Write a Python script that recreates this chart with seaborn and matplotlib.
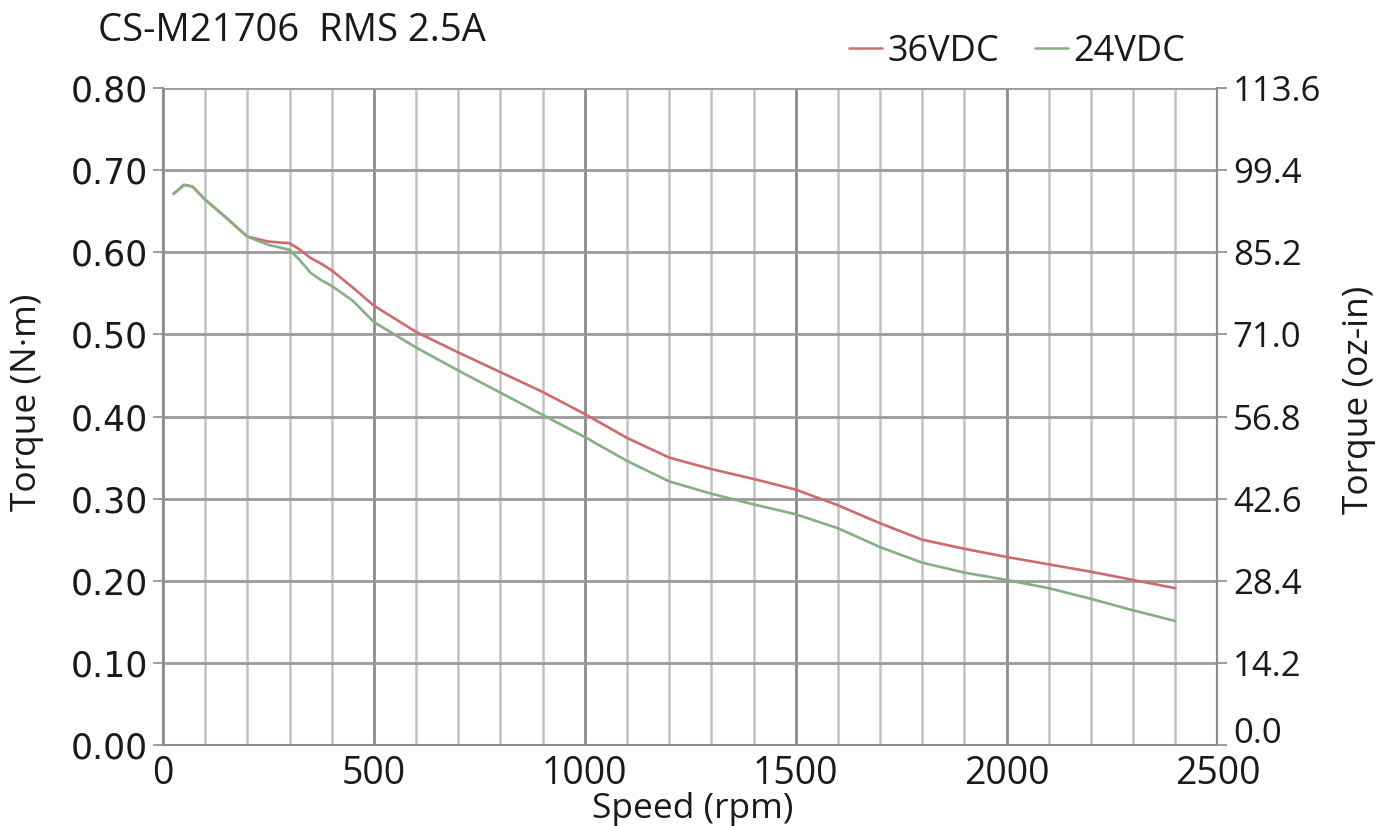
import numpy as np
import pandas as pd
import matplotlib
matplotlib.use("Agg")
import matplotlib.pyplot as plt
from matplotlib.transforms import ScaledTranslation
import seaborn as sns

# ---- data ----
speed = [25, 50, 70, 100, 150, 200, 250, 300, 325, 350, 375, 400, 450, 500, 600, 700, 800,
         900, 1000, 1100, 1200, 1300, 1400, 1500, 1600, 1700, 1800, 1900, 2000,
         2100, 2200, 2300, 2400]
torque_36 = [0.671, 0.682, 0.680, 0.664, 0.642, 0.619, 0.613, 0.611, 0.603, 0.593, 0.586, 0.578,
             0.557, 0.535, 0.503, 0.478, 0.454, 0.430, 0.403, 0.374, 0.350, 0.336,
             0.324, 0.311, 0.292, 0.270, 0.250, 0.239, 0.229, 0.220, 0.211, 0.201,
             0.191]
torque_24 = [0.671, 0.682, 0.680, 0.664, 0.642, 0.619, 0.609, 0.603, 0.590, 0.575, 0.566, 0.559,
             0.541, 0.515, 0.484, 0.456, 0.429, 0.402, 0.375, 0.346, 0.321, 0.306,
             0.293, 0.281, 0.264, 0.241, 0.222, 0.210, 0.201, 0.191, 0.178, 0.164,
             0.151]
series_names = ["36VDC", "24VDC"]
series_colors = ["#cf6a6e", "#84b084"]
left_ticks = [0.0, 0.1, 0.2, 0.3, 0.4, 0.5, 0.6, 0.7, 0.8]
right_ticks = [0.0, 14.2, 28.4, 42.6, 56.8, 71.0, 85.2, 99.4, 113.6]
x_major = [0, 500, 1000, 1500, 2000, 2500]
title_text = "CS-M21706  RMS 2.5A"

df = pd.DataFrame({
    "speed": speed * 2,
    "torque": torque_36 + torque_24,
    "series": [series_names[0]] * len(speed) + [series_names[1]] * len(speed),
})

sns.set_theme(style="white")
plt.rcParams["font.family"] = ["Open Sans", "DejaVu Sans"]

fig = plt.figure(figsize=(13.93, 8.26), dpi=100)
ax = fig.add_axes([0.117, 0.098, 0.757, 0.7955])

# grid
for xv in range(0, 2501, 100):
    major = xv % 500 == 0
    ax.axvline(xv, color="#8c8c8c" if major else "#c2c2c2", lw=2.0 if major else 1.8, zorder=0)
for yv in left_ticks:
    ax.axhline(yv, color="#9a9a9a", lw=2.0, zorder=0)

sns.lineplot(data=df, x="speed", y="torque", hue="series", hue_order=series_names,
             palette=dict(zip(series_names, series_colors)), lw=1.9, ax=ax,
             legend=False, sort=False, estimator=None)

ax.set_xlim(0, 2500)
ax.set_ylim(0, 0.8)
ax.set_xticks(x_major)
ax.set_xticklabels([str(v) for v in x_major], fontsize=27, color="#1a1a1a")
ax.set_yticks(left_ticks)
ax.set_yticklabels([f"{v:.2f}" for v in left_ticks], fontsize=25, color="#1a1a1a",
                   fontfamily="DejaVu Sans")
ax.tick_params(axis="both", direction="out", length=7, width=1.2, color="#8c8c8c", pad=4)
ax.tick_params(axis="x", pad=0)
for s in ["left", "right", "bottom"]:
    ax.spines[s].set_color("#8c8c8c")
    ax.spines[s].set_linewidth(1.5)
ax.spines["top"].set_visible(False)
ax.set_xlabel("Speed (rpm)", fontsize=25.5, color="#1a1a1a")
ax.xaxis.set_label_coords(0.502, -0.071)
ax.set_ylabel("Torque (N·m)", fontsize=25.5, color="#1a1a1a")
ax.yaxis.set_label_coords(-0.113, 0.522)

ax2 = ax.twinx()
ax2.set_ylim(0, 113.6)
ax2.set_yticks(right_ticks)
ax2.set_yticklabels([f"{v:.1f}" for v in right_ticks], fontsize=25, color="#1a1a1a")
ax2.tick_params(axis="y", direction="out", length=7, width=1.2, color="#8c8c8c", pad=4)
for s in ["left", "top", "bottom"]:
    ax2.spines[s].set_visible(False)
ax2.spines["right"].set_color("#8c8c8c")
ax2.spines["right"].set_linewidth(1.5)
ax2.set_ylabel("Torque (oz-in)", fontsize=25.5, color="#1a1a1a")
ax2.yaxis.set_label_coords(1.118, 0.525)
ax2.grid(False)
# lowest right label sits just above the axis line, as in the reference
fig.canvas.draw()
lbl0 = ax2.get_yticklabels()[0]
lbl0.set_transform(lbl0.get_transform() + ScaledTranslation(0, 0.15, fig.dpi_scale_trans))

fig.text(0.07, 0.963, title_text, fontsize=27.5, color="#1a1a1a", va="center", ha="left")

handles = [plt.Line2D([0], [0], color=c, lw=1.8) for c in series_colors]
fig.legend(handles, series_names, loc="center right", bbox_to_anchor=(0.874, 0.937),
           ncol=2, frameon=False, fontsize=26, handlelength=0.9, handletextpad=0.15,
           columnspacing=1.0, labelcolor="#1a1a1a")

fig.savefig("out.png", dpi=100, facecolor="white")
